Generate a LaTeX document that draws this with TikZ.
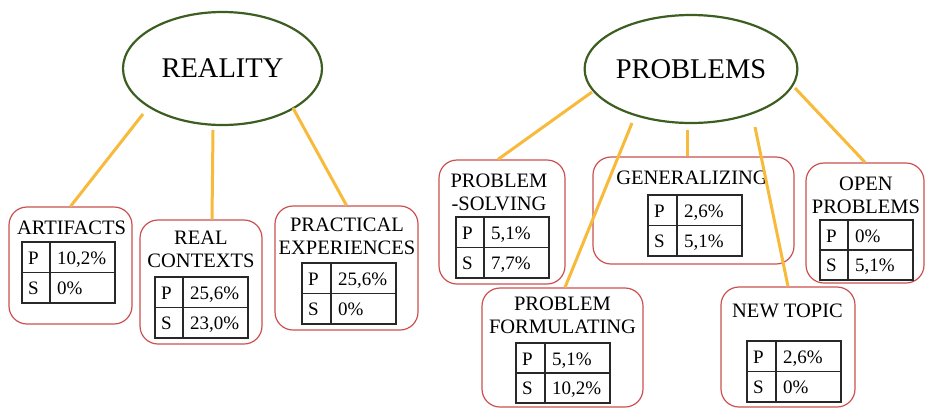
\documentclass[tikz,border=0pt]{standalone}
\usepackage{fontspec}
\setmainfont{Liberation Serif}
\usetikzlibrary{shapes.geometric}

\definecolor{ovalgreen}{RGB}{60,94,32}
\definecolor{boxred}{RGB}{204,80,80}
\definecolor{linkorange}{RGB}{248,186,58}
\definecolor{gridgray}{RGB}{40,40,40}

\tikzset{
  oval/.style={ellipse, draw=ovalgreen, line width=2.2pt, inner sep=0pt,
    font=\fontsize{28.5}{30}\selectfont},
  catbox/.style={draw=boxred, line width=1.2pt, rounded corners=18pt, inner sep=0pt},
  cattitle/.style={inner sep=0pt, align=center, font=\fontsize{20.5}{23}\selectfont},
  celltext/.style={inner sep=0pt, font=\fontsize{19}{21}\selectfont},
  tabline/.style={draw=gridgray, line width=1.1pt},
  link/.style={draw=linkorange, line width=3pt},
}

% two-row table: name, left, split, right, top, bottom, P value, S value
\newcommand\pstable[8]{%
  \draw[tabline] (#2,#5) rectangle (#4,#6);
  \draw[tabline] (#3,#5) -- (#3,#6);
  \draw[tabline] (#2,{(#5+#6)/2}) -- (#4,{(#5+#6)/2});
  \node[celltext, anchor=base west] (#1-pl) at ({#2+6},{#5+22}) {P};
  \node[celltext, anchor=base west] (#1-pv) at ({#3+7},{#5+22}) {#7};
  \node[celltext, anchor=base west] (#1-sl) at ({#2+6},{(#5+#6)/2+21.5}) {S};
  \node[celltext, anchor=base west] (#1-sv) at ({#3+7},{(#5+#6)/2+21.5}) {#8};
}

\begin{document}
\begin{tikzpicture}[x=1pt, y=-1pt]
  \useasboundingbox (0,0) rectangle (925,408);

  % top-level ovals
  \node[oval, minimum width=199pt, minimum height=113pt] (reality) at (222.5,68.5) {REALITY};
  \node[oval, minimum width=200pt, minimum height=108pt] (problems) at (691,69) {PROBLEMS};

  % category boxes
  \node[catbox, minimum width=123pt, minimum height=117pt] (art) at (70.5,265.5) {};
  \node[catbox, minimum width=122pt, minimum height=124pt] (rc)  at (201,282) {};
  \node[catbox, minimum width=143pt, minimum height=124pt] (pe)  at (346.5,268) {};
  \node[catbox, minimum width=126pt, minimum height=124pt] (ps)  at (502,222) {};
  \node[catbox, minimum width=201pt, minimum height=107pt] (gen) at (693.5,210.5) {};
  \node[catbox, minimum width=118pt, minimum height=120pt] (op)  at (865,223) {};
  \node[catbox, minimum width=161pt, minimum height=119pt] (pf)  at (562.5,347.5) {};
  \node[catbox, minimum width=134pt, minimum height=120pt] (nt)  at (788,347) {};

  % box titles
  \node[cattitle] (art-t) at (71.5,227.5) {ARTIFACTS};
  \node[cattitle] (rc-t)  at (201,249.5) {REAL\\CONTEXTS};
  \node[cattitle] (pe-t)  at (347,236.5) {PRACTICAL\\EXPERIENCES};
  \node[cattitle] (ps-t)  at (499,192) {PROBLEM\\-SOLVING};
  \node[cattitle] (gen-t) at (692,178) {GENERALIZING};
  \node[cattitle] (op-t)  at (866,195) {OPEN\\PROBLEMS};
  \node[cattitle] (pf-t)  at (562.5,315) {PROBLEM\\FORMULATING};
  \node[cattitle] (nt-t)  at (787.5,311) {NEW TOPIC};

  % percentage tables
  \pstable{art}{22}{50}{115}{242}{303}{10,2\%}{0\%}
  \pstable{rc}{155}{183}{248}{277}{338}{25,6\%}{23,0\%}
  \pstable{pe}{302}{331}{396}{263}{324}{25,6\%}{0\%}
  \pstable{ps}{456}{484}{549}{217}{278}{5,1\%}{7,7\%}
  \pstable{gen}{648}{677}{742}{195}{256}{2,6\%}{5,1\%}
  \pstable{op}{820}{848}{913}{220}{280}{0\%}{5,1\%}
  \pstable{pf}{516}{545}{610}{343}{403}{5,1\%}{10,2\%}
  \pstable{nt}{747}{776}{841}{341}{402}{2,6\%}{0\%}

  % connectors
  \draw[link] ([shift={(-79.5,45.5)}]reality.center) -- (art.north);
  \draw[link] ([shift={(-9.5,61.5)}]reality.center) -- ([xshift=11pt]rc.north);
  \draw[link] ([shift={(70.5,39.5)}]reality.center) -- (pe.north);
  \draw[link] ([shift={(-99,23)}]problems.center) -- ([xshift=-4pt]ps.north);
  \draw[link] ([shift={(-59,54)}]problems.center) -- ([xshift=2.5pt]pf.north);
  \draw[link] ([shift={(-4,61)}]problems.center) -- ([xshift=-6.5pt]gen.north);
  \draw[link] ([shift={(64,58)}]problems.center) -- (nt.north);
  \draw[link] ([shift={(104,19)}]problems.center) -- (op.north);
\end{tikzpicture}
\end{document}
